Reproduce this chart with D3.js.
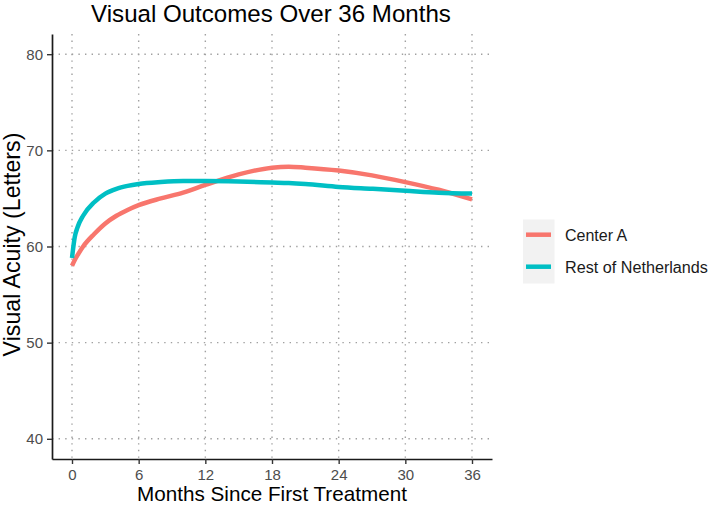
<!DOCTYPE html>
<html><head><meta charset="utf-8">
<script src="https://cdn.jsdelivr.net/npm/d3@7"></script>
<style>body{margin:0;background:#fff}svg{display:block}text{font-family:"Liberation Sans",Arial,sans-serif}</style>
</head><body>
<svg id="c" width="709" height="506"></svg>
<script>
const months = [0,0.25,0.5,1,2,3,4,5,6,8,10,12,15,18,19.5,21,24,27,30,33,36];
const centerA = [58.0,58.6,59.1,60.0,61.3,62.4,63.2,63.8,64.3,65.0,65.6,66.4,67.5,68.2,68.3,68.2,67.9,67.4,66.7,65.9,64.9];
const restNL = [58.8,61.0,62.0,63.2,64.6,65.5,66.0,66.3,66.5,66.7,66.8,66.8,66.75,66.65,66.6,66.5,66.2,66.0,65.8,65.6,65.5];
const xTicks = [0,6,12,18,24,30,36];
const yTicks = [40,50,60,70,80];
const seriesNames = ["Center A","Rest of Netherlands"];
const colors = ["#F8766D","#00BFC4"];

const svg = d3.select("#c");
const L=52,R=492,T=34,B=459;
const x = d3.scaleLinear().domain([-1.8,37.8]).range([L,R]);
const y = d3.scaleLinear().domain([37.9,82.1]).range([B,T]);

function fit(sel, target){
  const w = sel.node().getComputedTextLength();
  const s = parseFloat(sel.style("font-size"));
  sel.style("font-size", (s*target/w)+"px");
}

// grid
const g = svg.append("g");
g.selectAll(".vg").data(xTicks).join("line")
  .attr("x1",d=>x(d)).attr("x2",d=>x(d)).attr("y1",T).attr("y2",B)
  .attr("stroke","#a0a0a0").attr("stroke-width",1.4).attr("stroke-dasharray","1.4,5.2");
g.selectAll(".hg").data(yTicks).join("line")
  .attr("y1",d=>y(d)).attr("y2",d=>y(d)).attr("x1",L).attr("x2",R)
  .attr("stroke","#a0a0a0").attr("stroke-width",1.4).attr("stroke-dasharray","1.4,5.2");

// lines
const line = d3.line().x(d=>x(d[0])).y(d=>y(d[1])).curve(d3.curveMonotoneX);
[centerA,restNL].forEach((vals,i)=>{
  svg.append("path").datum(months.map((m,j)=>[m,vals[j]]))
    .attr("d",line).attr("fill","none").attr("stroke",colors[i])
    .attr("stroke-width",4.5).attr("stroke-linecap","butt");
});

// axes
const xa = svg.append("g").attr("transform",`translate(0,${B})`)
  .call(d3.axisBottom(x).tickValues(xTicks).tickSize(5).tickPadding(5).tickSizeOuter(0));
const ya = svg.append("g").attr("transform",`translate(${L},0)`)
  .call(d3.axisLeft(y).tickValues(yTicks).tickSize(5).tickPadding(4).tickSizeOuter(0));
[xa,ya].forEach(a=>{
  a.select(".domain").attr("stroke","#1a1a1a").attr("stroke-width",1.7);
  a.selectAll(".tick line").attr("stroke","#333").attr("stroke-width",1.4);
  a.selectAll(".tick text").attr("fill","#4d4d4d").style("font-size","15px");
});

// titles
const t1 = svg.append("text").attr("x",271).attr("y",22).attr("text-anchor","middle")
  .style("font-size","22px").attr("fill","#000").text("Visual Outcomes Over 36 Months");
fit(t1,360);
const t2 = svg.append("text").attr("x",272).attr("y",501).attr("text-anchor","middle")
  .style("font-size","19px").attr("fill","#000").text("Months Since First Treatment");
fit(t2,270);
const t3 = svg.append("text").attr("transform",`translate(19.5,${(T+B)/2-2}) rotate(-90)`).attr("text-anchor","middle")
  .style("font-size","19px").attr("fill","#000").text("Visual Acuity (Letters)");
fit(t3,224);

// legend
const lg = svg.append("g");
lg.append("rect").attr("x",523).attr("y",219.5).attr("width",31.5).attr("height",64).attr("fill","#f2f2f2");
seriesNames.forEach((n,i)=>{
  const yy = 234.7 + i*32;
  lg.append("line").attr("x1",526).attr("x2",551).attr("y1",yy).attr("y2",yy)
    .attr("stroke",colors[i]).attr("stroke-width",4.5);
  const tx = lg.append("text").attr("x",565).attr("y",yy+6).style("font-size","16px").attr("fill","#1a1a1a").text(n);
  if(i===1) fit(tx,143);
});
</script>
</body></html>
